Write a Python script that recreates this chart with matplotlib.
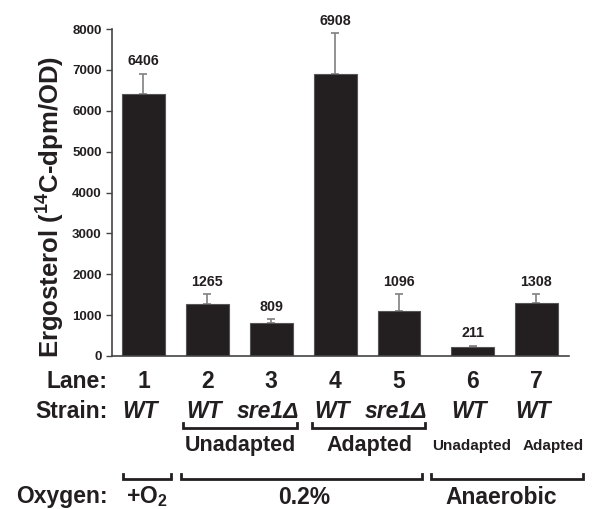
import matplotlib
matplotlib.use("Agg")
import matplotlib.pyplot as plt
from matplotlib.transforms import blended_transform_factory

# ---- data ----
lanes = ["1", "2", "3", "4", "5", "6", "7"]
strains = ["WT", "WT", "sre1Δ", "WT", "sre1Δ", "WT", "WT"]
values = [6406, 1265, 809, 6908, 1096, 211, 1308]
err_upper = [500, 245, 90, 995, 415, 42, 200]
yticks = [0, 1000, 2000, 3000, 4000, 5000, 6000, 7000, 8000]

plt.rcParams['font.family'] = ['Liberation Sans', 'DejaVu Sans']
plt.rcParams['mathtext.fontset'] = 'custom'
plt.rcParams['mathtext.rm'] = 'Liberation Sans:bold'
plt.rcParams['mathtext.bf'] = 'Liberation Sans:bold'
plt.rcParams['mathtext.it'] = 'Liberation Sans:bold:italic'

W, H = 597, 509
fig = plt.figure(figsize=(W / 100, H / 100), dpi=100)
L, R, T, B = 112, 569, 29, 356
ax = fig.add_axes([L / W, 1 - B / H, (R - L) / W, (B - T) / H])

# layout positions (lane spacing, with a wider gap before lane 6)
xpos = [1, 2, 3, 4, 5, 6.15, 7.15]
bar_w = 0.67

ax.bar(xpos, values, width=bar_w, color='#231f20', edgecolor='#555555',
       linewidth=0.8, zorder=2)
ax.errorbar(xpos, values, yerr=[[0] * len(values), err_upper], fmt='none',
            ecolor='#808080', elinewidth=1.2, capsize=3, capthick=1.2, zorder=1)
for x, v, e in zip(xpos, values, err_upper):
    ax.annotate(f"{v}", (x, v + e), xytext=(0, 6), textcoords='offset points',
                ha='center', va='baseline', fontsize=10.3, fontweight='bold',
                color='#231f20')

ax.set_xlim(0.508, 7.66)
ax.set_ylim(0, 8000)
ax.set_yticks(yticks)
ax.set_yticklabels([str(t) for t in yticks], fontsize=9.5, fontweight='bold',
                   color='#231f20')
ax.tick_params(axis='y', length=4, width=1, color='#444444', pad=3.5)
ax.tick_params(axis='x', length=0, labelbottom=False)
for s in ['top', 'right']:
    ax.spines[s].set_visible(False)
for s in ['left', 'bottom']:
    ax.spines[s].set_color('#444444')
    ax.spines[s].set_linewidth(1.2)

fig.text(51 / W, 1 - 207 / H, r"Ergosterol ($^{14}$C-dpm/OD)", rotation=90,
         ha='center', va='center', fontsize=18.5, fontweight='bold',
         color='#231f20')

tr = blended_transform_factory(ax.transData, fig.transFigure)
def fy(py):
    return 1 - py / H

big = 16.5
col = '#231f20'
fig.text(108 / W, fy(382), "Lane:", ha='right', va='center', fontsize=big,
         fontweight='bold', color=col)
fig.text(108 / W, fy(412), "Strain:", ha='right', va='center', fontsize=big,
         fontweight='bold', color=col)
fig.text(108 / W, fy(497), "Oxygen:", ha='right', va='center', fontsize=big,
         fontweight='bold', color=col)

for x, l, s in zip(xpos, lanes, strains):
    fig.text(x, fy(382), l, transform=tr, ha='center', va='center',
             fontsize=big, fontweight='bold', color=col)
    fig.text(x - 0.05, fy(412), s, transform=tr, ha='center', va='center',
             fontsize=big, fontweight='bold', fontstyle='italic', color=col)

def bracket(x0, x1, py, h=5):
    ax.plot([x0, x0, x1, x1], [fy(py - h), fy(py), fy(py), fy(py - h)],
            transform=tr, color=col, lw=2, clip_on=False,
            solid_joinstyle='miter')

bracket(1.617, 3.398, 428)
bracket(3.633, 5.414, 428)
bracket(0.68, 1.43, 479)
bracket(1.586, 5.367, 479)
bracket(5.508, 7.88, 479)

fig.text(2.51, fy(446), "Unadapted", transform=tr, ha='center', va='center',
         fontsize=15.5, fontweight='bold', color=col)
fig.text(4.54, fy(446), "Adapted", transform=tr, ha='center', va='center',
         fontsize=15.5, fontweight='bold', color=col)
fig.text(6.13, fy(446), "Unadapted", transform=tr, ha='center', va='center',
         fontsize=11, fontweight='bold', color=col)
fig.text(7.41, fy(446), "Adapted", transform=tr, ha='center', va='center',
         fontsize=11, fontweight='bold', color=col)

fig.text(1.06, fy(497), r"+O$_{2}$", transform=tr, ha='center', va='center',
         fontsize=big, fontweight='bold', color=col)
fig.text(3.52, fy(497), "0.2%", transform=tr, ha='center', va='center',
         fontsize=big, fontweight='bold', color=col)
fig.text(6.6, fy(497), "Anaerobic", transform=tr, ha='center', va='center',
         fontsize=big, fontweight='bold', color=col)

fig.savefig("out.png", dpi=100)
